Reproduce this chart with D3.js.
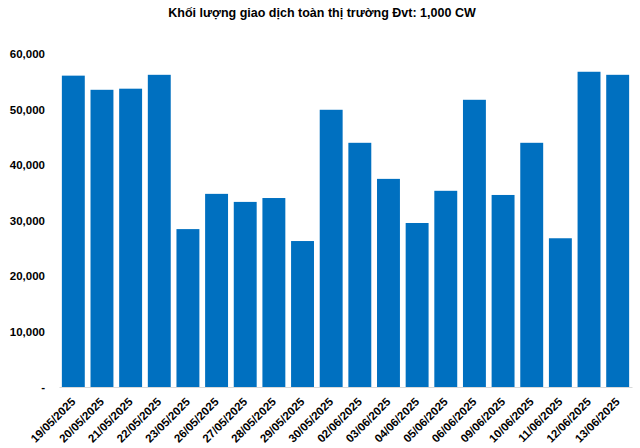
<!DOCTYPE html>
<html>
<head>
<meta charset="utf-8">
<script src="https://cdn.jsdelivr.net/npm/d3@7"></script>
<style>
  body { margin: 0; background: #fff; }
  text { font-family: "Liberation Sans", Arial, sans-serif; }
</style>
</head>
<body>
<div id="chart"></div>
<script>
var title = "Khối lượng giao dịch toàn thị trường Đvt: 1,000 CW";
var dates = ["19/05/2025", "20/05/2025", "21/05/2025", "22/05/2025", "23/05/2025",
  "26/05/2025", "27/05/2025", "28/05/2025", "29/05/2025", "30/05/2025",
  "02/06/2025", "03/06/2025", "04/06/2025", "05/06/2025", "06/06/2025",
  "09/06/2025", "10/06/2025", "11/06/2025", "12/06/2025", "13/06/2025"];
var volumes = [56100, 53550, 53750, 56250, 28450,
  34800, 33350, 34050, 26300, 49950,
  44000, 37500, 29550, 35350, 51750,
  34600, 44000, 26800, 56800, 56250];
var yTicks = [0, 10000, 20000, 30000, 40000, 50000, 60000];

var margin = { top: 54, right: 8, bottom: 61, left: 59 },
  width = 640 - margin.left - margin.right,
  height = 448 - margin.top - margin.bottom;

var svg = d3.select("#chart").append("svg")
  .attr("width", 640)
  .attr("height", 448);

svg.append("text")
  .attr("x", 322)
  .attr("y", 17)
  .attr("text-anchor", "middle")
  .style("font-size", "12.5px")
  .style("font-weight", "bold")
  .text(title);

var g = svg.append("g")
  .attr("transform", "translate(" + margin.left + "," + margin.top + ")");

var x = d3.scaleBand().domain(dates).range([0, width]).paddingInner(0.2).paddingOuter(0.1);
var y = d3.scaleLinear().domain([0, 60000]).range([height, 0]);

// y axis labels only, no line
var yAxis = d3.axisLeft(y)
  .tickValues(yTicks)
  .tickSize(0)
  .tickPadding(14)
  .tickFormat(function (d) { return d === 0 ? "-" : d3.format(",")(d); });

g.append("g")
  .attr("class", "y axis")
  .call(yAxis)
  .call(function (a) { a.select(".domain").remove(); })
  .selectAll("text")
  .style("font-size", "11.5px")
  .style("font-weight", "bold")
  .style("fill", "#000");

g.selectAll(".bar")
  .data(volumes)
  .enter()
  .append("rect")
  .attr("class", "bar")
  .attr("x", function (d, i) { return x(dates[i]); })
  .attr("width", x.bandwidth())
  .attr("y", function (d) { return y(d); })
  .attr("height", function (d) { return height - y(d); })
  .style("fill", "#0070C0");

var xAxis = d3.axisBottom(x).tickSize(0).tickPadding(6);

var xg = g.append("g")
  .attr("class", "x axis")
  .attr("transform", "translate(0," + height + ")")
  .call(xAxis);

xg.select(".domain").attr("stroke", "#d9d9d9");

// rotated date labels, end of text just under the bar
xg.selectAll("text")
  .style("font-size", "11.5px")
  .style("font-weight", "bold")
  .style("fill", "#000")
  .style("text-anchor", "end")
  .attr("x", -9)
  .attr("y", 13)
  .attr("dx", 0)
  .attr("dy", 0)
  .attr("transform", "rotate(-45)");
</script>
</body>
</html>
